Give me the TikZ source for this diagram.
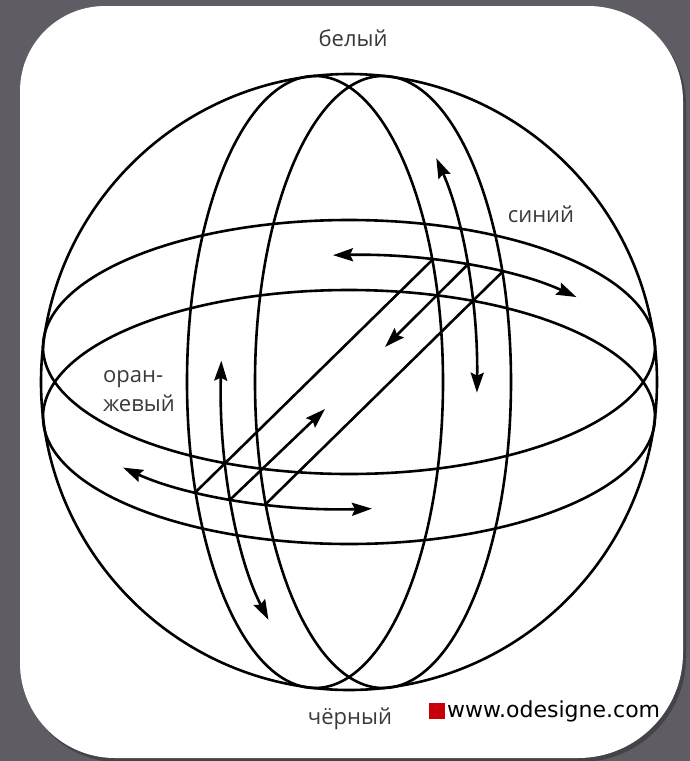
\documentclass[tikz,border=0pt]{standalone}
\usepackage{fontspec}
\newfontfamily\labelfamily{Open Sans}
\newfontfamily\sitefamily{DejaVu Sans}
\usetikzlibrary{arrows.meta}
\definecolor{PageGray}{HTML}{5F5C63}
\definecolor{PageShade}{HTML}{3F3D42}
\definecolor{LabelGray}{HTML}{3A3A3A}
\definecolor{SiteRed}{HTML}{C8000A}
\newcommand{\SphLabel}{\labelfamily\fontsize{22}{29}\selectfont}
\newcommand{\SphSite}{\sitefamily\fontsize{22}{26}\selectfont}
\newcommand{\PanelPath}{(20,91) arc[start angle=180, end angle=270, radius=85] -- (588,6)
  arc[start angle=270, end angle=360, radius=95] -- (683,653)
  arc[start angle=0, end angle=90, radius=105] -- (115,758)
  arc[start angle=90, end angle=180, radius=95] -- cycle}
\tikzset{
  sphereline/.style={draw=black, line width=2.6pt},
  moveline/.style={sphereline, -{Stealth[length=20pt,width=13pt,inset=3pt]}},
  twowayline/.style={sphereline, {Stealth[length=20pt,width=13pt,inset=3pt]}-{Stealth[length=20pt,width=13pt,inset=3pt]}},
  colourlabel/.style={text=LabelGray, font=\SphLabel, inner sep=0pt, anchor=base},
  sitelabel/.style={text=black, font=\SphSite, inner sep=0pt, anchor=base west},
  sitemarkbox/.style={fill=SiteRed, minimum size=16pt, inner sep=0pt}
}

\begin{document}
\begin{tikzpicture}[x=1pt,y=-1pt]
\path[use as bounding box] (0,0) rectangle (690,761);
\fill[PageGray] (0,0) rectangle (690,761);
\begin{scope}[shift={(3,4)}]
\fill[PageShade, opacity=0.8] \PanelPath;
\end{scope}
\fill[white] \PanelPath;

\coordinate (centre) at (349,382);
\coordinate (merL) at (315,382);
\coordinate (merR) at (383,382);
\coordinate (latU) at (349,347);
\coordinate (latD) at (349,417);

\draw[sphereline] (centre) circle[radius=308];
\draw[sphereline] (merL) ellipse[x radius=128, y radius=306];
\draw[sphereline] (merR) ellipse[x radius=128, y radius=306];
\draw[sphereline] (latU) ellipse[x radius=306, y radius=127];
\draw[sphereline] (latD) ellipse[x radius=306, y radius=127];

\coordinate (backL) at (432.4,259.8);
\coordinate (frontL) at (195.6,492.1);
\coordinate (backR) at (502.4,271.9);
\coordinate (frontR) at (265.6,504.2);
\coordinate (backC) at (467.3,264.9);
\coordinate (frontC) at (230.7,499.1);
\coordinate (backTip) at (385,347);
\coordinate (frontTip) at (325,409);

\draw[sphereline] (backL) -- (frontL);
\draw[sphereline] (backR) -- (frontR);
\draw[moveline] (backC) -- (backTip);
\draw[moveline] (frontC) -- (frontTip);

\draw[twowayline] ([shift={(2:128 and 306)}]centre) arc[start angle=2, end angle=-47, x radius=128, y radius=306];
\draw[twowayline] ([shift={(-176:128 and 306)}]centre) arc[start angle=-176, end angle=-231, x radius=128, y radius=306];
\draw[twowayline] ([shift={(-93:306 and 127)}]centre) arc[start angle=-93, end angle=-42, x radius=306, y radius=127];
\draw[twowayline] ([shift={(137.6:306 and 127)}]centre) arc[start angle=137.6, end angle=85.7, x radius=306, y radius=127];

\node[colourlabel] (white) at (353,46) {белый};
\node[colourlabel] (blue) at (541,222) {синий};
\node[colourlabel, anchor=west, align=left] (orange) at (103,391) {оран-\\жевый};
\node[colourlabel] (black) at (350,724) {чёрный};
\node[sitemarkbox] (sitemark) at (436.5,711) {};
\node[sitelabel] (site) at (447,717) {www.odesigne.com};

\end{tikzpicture}
\end{document}
